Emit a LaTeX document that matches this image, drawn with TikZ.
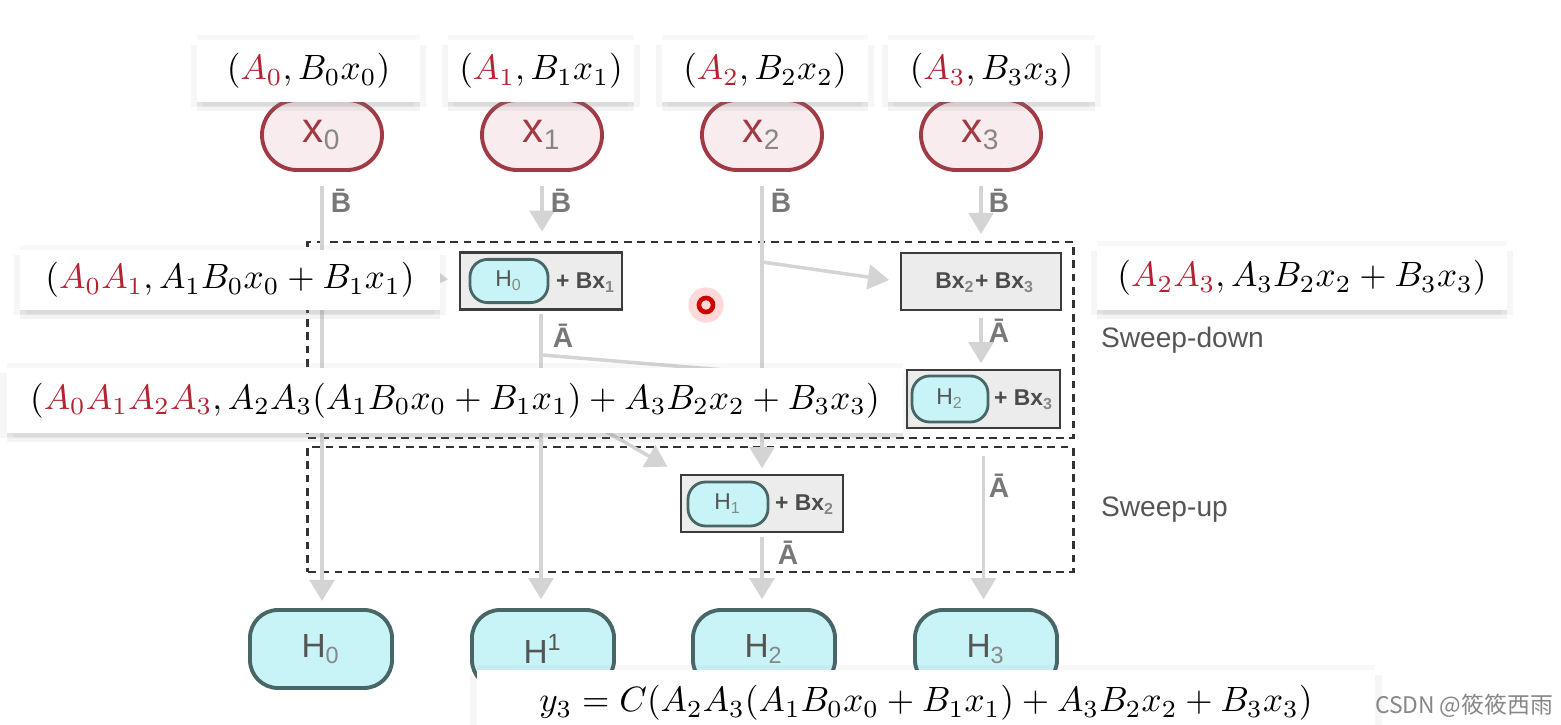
\documentclass[tikz,border=0pt]{standalone}
\usepackage{amsmath}
\usepackage{fontspec}
\setsansfont{Liberation Sans}
\newfontfamily\cjkfont{Noto Sans CJK SC}
\usetikzlibrary{arrows.meta,positioning,shadows}

\definecolor{ared}{RGB}{180,35,50}
\definecolor{xrose}{RGB}{162,58,68}
\definecolor{xpink}{RGB}{249,236,238}
\definecolor{hteal}{RGB}{72,102,102}
\definecolor{hcyan}{RGB}{200,244,248}
\definecolor{hgray}{RGB}{85,85,85}
\definecolor{subgray}{RGB}{135,135,135}
\definecolor{boxline}{RGB}{60,60,60}
\definecolor{boxfill}{RGB}{236,236,236}
\definecolor{boxtext}{RGB}{75,75,75}
\definecolor{flowgray}{RGB}{212,212,212}
\definecolor{lblgray}{RGB}{120,120,120}
\definecolor{sweepline}{RGB}{50,50,50}
\definecolor{sweepgray}{RGB}{85,85,85}

\newcommand{\redA}[1]{{\color{ared}A_{#1}}}
\newcommand{\lowtxt}[1]{\textsubscript{\color{subgray}#1}}

\begin{document}
\begin{tikzpicture}[x=0.01cm, y=-0.01cm, >={Triangle[width=7pt,length=6pt]},
  lbl/.style={fill=white, inner sep=0pt, font=\fontsize{10.2}{12}\selectfont,
    drop shadow={opacity=0.09, shadow xshift=0pt, shadow yshift=-1pt},
    drop shadow={opacity=0.09, shadow xshift=0pt, shadow yshift=-2.5pt},
    drop shadow={opacity=0.07, shadow xshift=1.8pt, shadow yshift=-1.5pt},
    drop shadow={opacity=0.07, shadow xshift=-1.8pt, shadow yshift=-1.5pt},
    drop shadow={opacity=0.06, shadow xshift=0pt, shadow yshift=1.5pt}},
  xpill/.style={draw=xrose, fill=xpink, line width=1.1pt, rounded corners=10pt,
    minimum width=1.2cm, minimum height=0.7cm, text=xrose,
    font=\sffamily\fontsize{12}{14}\selectfont},
  hnode/.style={draw=hteal, fill=hcyan, line width=1.1pt, rounded corners=8pt,
    minimum width=1.42cm, minimum height=0.78cm, text=hgray,
    font=\sffamily\fontsize{9.5}{11}\selectfont},
  hpill/.style={draw=hteal, fill=hcyan, line width=0.8pt, rounded corners=5pt,
    minimum width=0.78cm, minimum height=0.42cm, text=hgray,
    font=\sffamily\fontsize{6.5}{8}\selectfont},
  sumbox/.style={draw=boxline, fill=boxfill, line width=0.8pt,
    minimum width=1.62cm, minimum height=0.57cm},
  boxtxt/.style={inner sep=0pt, text=boxtext, font=\sffamily\bfseries\fontsize{6.5}{8}\selectfont},
  flow/.style={->, draw=flowgray, fill=flowgray, line width=1pt},
  barlbl/.style={inner sep=0pt, text=lblgray, font=\sffamily\bfseries\fontsize{8}{9}\selectfont},
  sweepbox/.style={draw=sweepline, line width=0.8pt, dash pattern=on 2.2pt off 1.6pt,
    minimum width=7.65cm},
  sweeptxt/.style={text=sweepgray, font=\sffamily\fontsize{8}{10}\selectfont}
]
  \clip (0,0) rectangle (1561,725);
  \useasboundingbox (0,0) rectangle (1561,725);

  % the two sweep phases
  \node[sweepbox, minimum height=1.96cm] (down) at (690.5,340) {};
  \node[sweepbox, minimum height=1.25cm] (up) at (690.5,509.5) {};
  \node[sweeptxt, right=4pt of down] (downtxt) {Sweep-down};
  \node[sweeptxt, right=4pt of up] (uptxt) {Sweep-up};

  % inputs
  \node[xpill] (x0) at (322,135) {x\lowtxt{0}};
  \node[xpill] (x1) at (542,135) {x\lowtxt{1}};
  \node[xpill] (x2) at (762,135) {x\lowtxt{2}};
  \node[xpill] (x3) at (981,135) {x\lowtxt{3}};

  % partial sums
  \node[sumbox] (s01) at (541,281) {};
  \node[hpill] (p01) at (509,281) {H\lowtxt{0}};
  \node[boxtxt] (t01) at (586,283) {+ Bx\lowtxt{1}};

  \node[sumbox, minimum width=1.6cm] (s23) at (981,281.5) {};
  \node[boxtxt] (t23) at (985,283) {Bx\lowtxt{2}+ Bx\lowtxt{3}};

  \node[sumbox, minimum width=1.53cm, minimum height=0.58cm] (s3) at (983.5,399) {};
  \node[hpill, minimum width=0.76cm, minimum height=0.46cm] (p3) at (950,399) {H\lowtxt{2}};
  \node[boxtxt] (t3) at (1024,400) {+ Bx\lowtxt{3}};

  \node[sumbox] (s12) at (762,503.5) {};
  \node[hpill, minimum width=0.8cm, minimum height=0.44cm] (p12) at (728,504) {H\lowtxt{1}};
  \node[boxtxt] (t12) at (805,505) {+ Bx\lowtxt{2}};

  % outputs
  \node[hnode] (h0) at (321,649) {H\lowtxt{0}};
  \node[hnode] (h1) at (543,649) {H\textsuperscript{1}};
  \node[hnode] (h2) at (764,649) {H\lowtxt{2}};
  \node[hnode] (h3) at (986,649) {H\lowtxt{3}};

  % connectors
  \coordinate (c0) at (322,262);
  \coordinate (c1a) at (542,355);
  \coordinate (c1b) at (542,395);
  \coordinate (c2) at (762,262);
  \draw[flow, shorten <=4pt, shorten >=2pt] (x0.south) -- (x0.south |- h0.north);
  \draw[flow, shorten <=4pt, shorten >=5.5pt] (x1.south) -- (x1.south |- s01.north);
  \draw[flow, shorten <=4pt, shorten >=1.5pt] (x2.south) -- (x2.south |- s12.north);
  \draw[flow, shorten <=4pt, shorten >=5pt] (x3.south) -- (x3.south |- s23.north);
  \draw[flow, shorten >=3pt] (c0) -- (s01.west);
  \draw[flow, shorten >=3pt] (c2) -- (s23.west);
  \draw[flow, shorten <=1pt, shorten >=2.5pt] (s01.south) -- (s01.south |- h1.north);
  \draw[flow, shorten >=3pt] (c1a) -- ([yshift=4pt]s3.west);
  \draw[flow, shorten <=2pt, shorten >=1.5pt] (s23.south) -- (s23.south |- s3.north);
  \draw[flow, shorten >=4pt] (c1b) -- (s12.north west);
  \draw[flow, shorten <=1pt, shorten >=2.5pt] (s12.south) -- (s12.south |- h2.north);
  \draw[flow, shorten <=7.5pt, shorten >=2.5pt] (s3.south) -- (s3.south |- h3.north);

  % edge labels
  \node[barlbl] (b0) at (341,201) {B̄};
  \node[barlbl] (b1) at (561,201) {B̄};
  \node[barlbl] (b2) at (781,201) {B̄};
  \node[barlbl] (b3) at (999,201) {B̄};
  \node[barlbl] (a1) at (563,336) {Ā};
  \node[barlbl] (a3) at (999,331) {Ā};
  \node[barlbl] (a3u) at (999,486) {Ā};
  \node[barlbl] (a2) at (788,553) {Ā};

  % pointer dot
  \fill[red!25, opacity=0.6] (706,305) circle (5pt);
  \draw[red!80!black, line width=1.3pt] (706,305) circle (2pt);

  % (A, Bx) pairs
  \node[lbl, minimum width=2.23cm, minimum height=0.62cm] (q0) at (308.5,71) {$(\redA{0}, B_0x_0)$};
  \node[lbl, minimum width=1.86cm, minimum height=0.62cm] (q1) at (541,71) {$(\redA{1}, B_1x_1)$};
  \node[lbl, minimum width=2.06cm, minimum height=0.62cm] (q2) at (765,71) {$(\redA{2}, B_2x_2)$};
  \node[lbl, minimum width=2.07cm, minimum height=0.62cm] (q3) at (991.5,71) {$(\redA{3}, B_3x_3)$};
  \node[lbl, minimum width=4.2cm, minimum height=0.6cm] (q01) at (230,280)
    {$(\redA{0}\redA{1}, A_1B_0x_0 + B_1x_1)$};
  \node[lbl, minimum width=4.1cm, minimum height=0.64cm] (q23) at (1302,278)
    {$(\redA{2}\redA{3}, A_3B_2x_2 + B_3x_3)$};
  \node[lbl, minimum width=8.96cm, minimum height=0.65cm] (q03) at (455,400.5)
    {$(\redA{0}\redA{1}\redA{2}\redA{3}, A_2A_3(A_1B_0x_0 + B_1x_1) + A_3B_2x_2 + B_3x_3)$};
  \node[lbl, minimum width=8.98cm, minimum height=0.66cm] (y3) at (926,703)
    {$y_3 = C(A_2A_3(A_1B_0x_0 + B_1x_1) + A_3B_2x_2 + B_3x_3)$};

  \node[text=subgray, font=\cjkfont\fontsize{6.5}{8}\selectfont] (mark) at (1464,706) {CSDN @筱筱西雨};
\end{tikzpicture}
\end{document}
